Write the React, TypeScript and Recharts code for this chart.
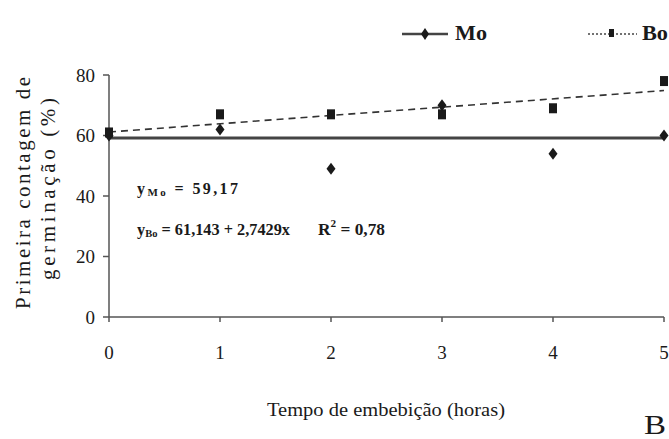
import React from 'react';
import {
  ComposedChart,
  Line,
  Scatter,
  XAxis,
  YAxis,
} from 'recharts';

// Tempo de embebição (horas)
const hours = [0, 1, 2, 3, 4, 5];
// Primeira contagem de germinação (%)
const moValues = [60, 62, 49, 70, 54, 60];
const boValues = [61, 67, 67, 67, 69, 78];

// fitted lines, end points
const trendHours = [0, 5];
const moTrend = [59.17, 59.17];
const boTrend = [61.14, 74.86];

const xTicks = [0, 1, 2, 3, 4, 5];
const yTicks = [0, 20, 40, 60, 80];

const moPoints = hours.map((h, i) => ({ x: h, y: moValues[i] }));
const boPoints = hours.map((h, i) => ({ x: h, y: boValues[i] }));
const moLine = trendHours.map((h, i) => ({ x: h, y: moTrend[i] }));
const boLine = trendHours.map((h, i) => ({ x: h, y: boTrend[i] }));

const FONT = 'Liberation Serif';
const INK = '#1a1a1a';
const AXIS = '#555';

const Diamond = (props: any) => {
  const { cx, cy } = props;
  return (
    <polygon
      points={`${cx},${cy - 6} ${cx + 4.5},${cy} ${cx},${cy + 6} ${cx - 4.5},${cy}`}
      fill={INK}
    />
  );
};

const Square = (props: any) => {
  const { cx, cy } = props;
  return <rect x={cx - 4} y={cy - 5} width={8} height={10} fill={INK} />;
};

const App = () => {
  return (
    <div style={{ position: 'absolute', left: 0, top: 0, width: 669, height: 439, background: '#fff', fontFamily: FONT }}>
      <ComposedChart
        width={669}
        height={439}
        margin={{ top: 75, right: 5, left: 0, bottom: 42 }}
      >
        <XAxis
          type="number"
          dataKey="x"
          domain={[0, 5]}
          ticks={xTicks}
          height={80}
          tickSize={5}
          tickMargin={24}
          stroke={AXIS}
          strokeWidth={1.5}
          tick={{ fill: INK, fontSize: 19, fontFamily: FONT }}
          allowDuplicatedCategory={false}
        />
        <YAxis
          type="number"
          dataKey="y"
          domain={[0, 80]}
          ticks={yTicks}
          width={109}
          tickSize={6}
          tickMargin={8}
          stroke={AXIS}
          strokeWidth={1.5}
          tick={{ fill: INK, fontSize: 19, fontFamily: FONT }}
        />
        <Line
          data={moLine}
          dataKey="y"
          stroke="#444"
          strokeWidth={3}
          dot={false}
          isAnimationActive={false}
        />
        <Line
          data={boLine}
          dataKey="y"
          stroke="#333"
          strokeWidth={1.6}
          strokeDasharray="7 5"
          dot={false}
          isAnimationActive={false}
        />
        <Scatter data={boPoints} dataKey="y" shape={<Square />} isAnimationActive={false} />
        <Scatter data={moPoints} dataKey="y" shape={<Diamond />} isAnimationActive={false} />
      </ComposedChart>

      <svg
        width={669}
        height={439}
        style={{ position: 'absolute', left: 0, top: 0, pointerEvents: 'none' }}
      >
        {/* legend */}
        <line x1={402} y1={34} x2={448} y2={34} stroke="#444" strokeWidth={2.5} />
        <polygon points="425,28 429,34 425,40 421,34" fill={INK} />
        <text x={455} y={40} fontFamily={FONT} fontSize={20} fontWeight="bold" fill={INK}
          textLength={32} lengthAdjust="spacingAndGlyphs">Mo</text>
        <line x1={588} y1={34} x2={637} y2={34} stroke="#444" strokeWidth={1.5} strokeDasharray="2 2" />
        <rect x={609} y={29} width={5} height={8} fill={INK} />
        <text x={642} y={40} fontFamily={FONT} fontSize={20} fontWeight="bold" fill={INK}
          textLength={26} lengthAdjust="spacingAndGlyphs">Bo</text>

        {/* y axis title */}
        <text
          transform="translate(30,193) rotate(-90)"
          textAnchor="middle"
          fontFamily={FONT}
          fontSize={21}
          fill={INK}
          textLength={232}
          lengthAdjust="spacing"
        >
          Primeira contagem de
        </text>
        <text
          transform="translate(55,189) rotate(-90)"
          textAnchor="middle"
          fontFamily={FONT}
          fontSize={21}
          fill={INK}
          textLength={182}
          lengthAdjust="spacing"
        >
          germinação (%)
        </text>

        {/* equations */}
        <text x={137} y={194} fontFamily={FONT} fontSize={16} fontWeight="bold" fill={INK}
          textLength={101} lengthAdjust="spacing">
          y<tspan fontSize={11} dy={2}>Mo</tspan>
          <tspan dy={-2}> =  59,17</tspan>
        </text>
        <text x={137} y={235} fontFamily={FONT} fontSize={17} fontWeight="bold" fill={INK}
          textLength={153} lengthAdjust="spacingAndGlyphs">
          y<tspan fontSize={11} dy={2}>Bo</tspan>
          <tspan dy={-2}> = 61,143 + 2,7429x</tspan>
        </text>
        <text x={318} y={235} fontFamily={FONT} fontSize={17} fontWeight="bold" fill={INK}
          textLength={67} lengthAdjust="spacingAndGlyphs">
          R<tspan fontSize={11} dy={-8}>2</tspan>
          <tspan dy={8}> = 0,78</tspan>
        </text>

        {/* x axis title */}
        <text x={386} y={416} textAnchor="middle" fontFamily={FONT} fontSize={19} fill={INK}
          textLength={238} lengthAdjust="spacingAndGlyphs">
          Tempo de embebição (horas)
        </text>
        <text x={644} y={434} fontFamily={FONT} fontSize={28} fill={INK}
          textLength={22} lengthAdjust="spacingAndGlyphs">B</text>
      </svg>
    </div>
  );
};

export default App;
